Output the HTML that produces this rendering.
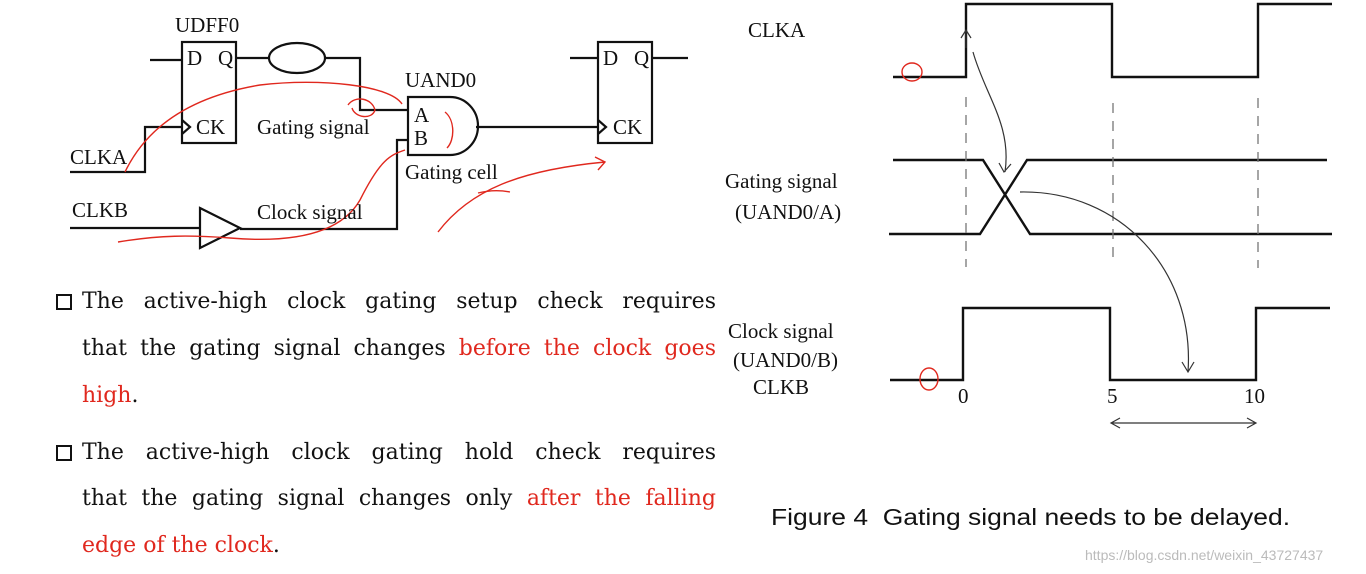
<!DOCTYPE html>
<html><head><meta charset="utf-8"><style>
body{margin:0;width:1366px;height:574px;background:#fff;position:relative;overflow:hidden}
.t{position:absolute;font-family:"Liberation Serif",serif;font-size:21px;color:#111;white-space:nowrap}
.ln{position:absolute;left:82px;width:634px;font-family:"DejaVu Serif","Liberation Serif",serif;font-size:22px;color:#111;text-align:justify;text-align-last:justify;white-space:nowrap;line-height:24px}
.ln.nl{text-align-last:left}
.r{color:#e0281e}
.box{position:absolute;left:56px;width:12px;height:12px;border:2.5px solid #111}
</style></head><body>
<svg width="1366" height="574" style="position:absolute;left:0;top:0">
<g fill="none" stroke="#111" stroke-width="2.2">
<rect x="182" y="42" width="54" height="101"/>
<path d="M150 60H182M182 120L190 127L182 134"/>
<path d="M70 172H145V127H182"/>
<path d="M236 58H268"/>
<ellipse cx="297" cy="58" rx="28" ry="15"/>
<path d="M325 58H360V110H408"/>
<path d="M408 97H450A28 29 0 0 1 450 155H408Z"/>
<path d="M408 140H397V229H240"/>
<path d="M200 208L240 228L200 248Z"/>
<path d="M70 228H200"/>
<path d="M476 127H598"/>
<rect x="598" y="42" width="54" height="101"/>
<path d="M570 58H598M652 58H688M598 120L606 127L598 134"/>
</g>
<g fill="none" stroke="#111" stroke-width="2.4">
<path d="M893 77H966V4H1112V77H1258V4H1332"/>
<path d="M893 160H983L1030 234H1332"/>
<path d="M889 234H980L1027 160H1327"/>
<path d="M890 380H963V308H1110V380H1256V308H1330"/>
</g>
<g stroke="#777" stroke-width="1.3" stroke-dasharray="10 8">
<path d="M966 97V267M1113 103V258M1258 98V268"/>
</g>
<g fill="none" stroke="#333" stroke-width="1.2">
<path d="M966 48V30M961 38L966 30L971 38"/>
<path d="M973 52C985 95 1012 125 1005 172M999 163L1004 172L1011 164"/>
<path d="M1020 192C1120 190 1195 270 1188 372M1182 362L1188 372L1194 362"/>
<path d="M1111 423H1256M1120 418L1111 423L1120 428M1247 418L1256 423L1247 428"/>
</g>
<g fill="none" stroke="#e0281e" stroke-width="1.4">
<path d="M125 172C150 120 200 95 260 85C320 78 390 85 402 104"/>
<path d="M348 105C355 95 372 98 375 110C372 120 355 118 352 108"/>
<path d="M445 112C455 120 455 140 447 148"/>
<path d="M118 242C160 235 190 235 230 238C290 243 340 235 360 200C380 160 390 155 405 150"/>
<path d="M438 232C470 190 520 170 605 162M595 157L605 162L598 170"/>
<path d="M478 193C490 190 500 190 510 192"/>
<ellipse cx="912" cy="72" rx="10" ry="9"/>
<ellipse cx="929" cy="379" rx="9" ry="11"/>
</g>
</svg>
<div class="t" style="left:175px;top:13px">UDFF0</div>
<div class="t" style="left:187px;top:46px">D</div>
<div class="t" style="left:218px;top:46px">Q</div>
<div class="t" style="left:196px;top:115px">CK</div>
<div class="t" style="left:603px;top:46px">D</div>
<div class="t" style="left:634px;top:46px">Q</div>
<div class="t" style="left:613px;top:115px">CK</div>
<div class="t" style="left:405px;top:68px">UAND0</div>
<div class="t" style="left:414px;top:103px">A</div>
<div class="t" style="left:414px;top:126px">B</div>
<div class="t" style="left:257px;top:115px">Gating signal</div>
<div class="t" style="left:405px;top:160px">Gating cell</div>
<div class="t" style="left:257px;top:200px">Clock signal</div>
<div class="t" style="left:70px;top:145px">CLKA</div>
<div class="t" style="left:72px;top:198px">CLKB</div>
<div class="t" style="left:748px;top:18px">CLKA</div>
<div class="t" style="left:725px;top:169px">Gating signal</div>
<div class="t" style="left:735px;top:200px">(UAND0/A)</div>
<div class="t" style="left:728px;top:319px">Clock signal</div>
<div class="t" style="left:733px;top:348px">(UAND0/B)</div>
<div class="t" style="left:753px;top:375px">CLKB</div>
<div class="t" style="left:958px;top:384px">0</div>
<div class="t" style="left:1107px;top:384px">5</div>
<div class="t" style="left:1244px;top:384px">10</div>
<div class="box" style="top:294px"></div>
<div class="ln" style="top:290px">The active-high clock gating setup check requires</div>
<div class="ln" style="top:337px">that the gating signal changes <span class="r">before the clock goes</span></div>
<div class="ln nl" style="top:384px"><span class="r">high</span>.</div>
<div class="box" style="top:445px"></div>
<div class="ln" style="top:441px">The active-high clock gating hold check requires</div>
<div class="ln" style="top:487px">that the gating signal changes only <span class="r">after the falling</span></div>
<div class="ln nl" style="top:534px"><span class="r">edge of the clock</span>.</div>
<div style="position:absolute;left:771px;top:504px;font-family:'Liberation Sans',sans-serif;font-size:23px;color:#111;white-space:nowrap;transform:scaleX(1.15);transform-origin:0 0">Figure 4&nbsp; Gating signal needs to be delayed.</div>
<div style="position:absolute;left:1085px;top:547px;font-family:'Liberation Sans',sans-serif;font-size:14px;color:#bbb;white-space:nowrap">https://blog.csdn.net/weixin_43727437</div>
</body></html>
